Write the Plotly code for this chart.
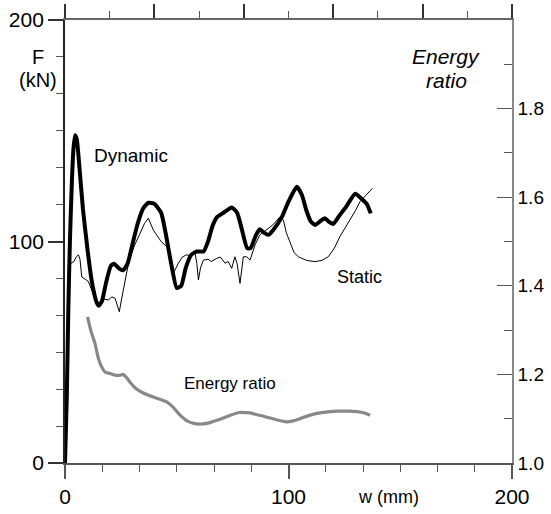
import plotly.graph_objects as go

# Dynamic load-displacement curve (w in mm, F in kN)
dyn_w = [0, 0.8, 1.5, 2.2, 3, 3.8, 4.5, 5.3, 6.5, 8, 10, 12, 14, 15, 16.5, 18.5, 20.5, 22,
         24, 26, 28, 30, 32.5, 35, 37.3, 40, 43, 45, 47.5, 50, 52, 54, 56.5, 59, 62, 64, 66,
         68, 71, 74.6, 77, 79, 81.5, 83, 85.5, 87.2, 89, 91, 93, 97, 100, 103.7, 106, 108,
         110, 112, 114, 116.3, 118, 120, 123, 126, 129.8, 133, 135, 136.8]
dyn_f = [0, 30, 70, 100, 125, 142, 148, 146, 133, 115, 97, 82, 73, 71, 73, 82, 89, 90,
         88, 87, 90, 98, 108, 115, 117.5, 117, 113, 104, 90, 79, 80, 88, 94, 95.5, 95.5, 100, 107,
         111, 113, 115.4, 113, 106, 97, 97, 103, 105.5, 104, 103, 105, 111, 118, 124.7, 121, 114,
         109, 107.5, 109, 110.5, 109, 107.9, 112, 116, 121.6, 119, 117, 112.7]

# Static load-displacement curve
sta_w = [0, 0.5, 1.2, 1.8, 2.5, 4, 5, 6, 6.7, 7.5, 9, 10.4, 12, 14.2, 16, 17.5, 19.4, 21,
         22.4, 23.5, 24.3, 25.5, 26.8, 28, 29.1, 31, 33.6, 35.5, 37.3, 38.5, 39.5, 41, 43,
         45.5, 47, 48.5, 49.5, 50.7, 52.5, 54.4, 56, 58.2, 59, 59.7, 60.6, 61.9, 64, 65.5,
         67.9, 69.5, 71.6, 73, 74.6, 76, 77, 78.3, 79.8, 81.3, 82.8, 85, 87.2, 90, 93, 96.2,
         97.7, 99, 100.7, 102.5, 104.4, 108, 111.9, 115, 117.8, 120.5, 123, 125, 127.5, 130,
         132, 134, 136.5, 137.5]
sta_f = [0, 30, 70, 88, 90, 91, 93, 94, 92, 84, 83, 82, 78, 72, 72, 74, 73.6, 75,
         74.4, 71, 68.3, 75, 82, 88, 92.4, 98, 103.7, 108, 110.5, 108, 105.2, 103, 100,
         97.7, 93, 85.6, 88, 90.2, 93, 94, 93.5, 94.7, 90, 82.6, 88, 91.6, 92, 91,
         92.4, 93, 90.2, 91, 87.9, 93.1, 90, 81.1, 93.1, 93.1, 91.6, 98.4, 103, 105, 107.5, 111.2,
         109.7, 104, 99.2, 95, 93.1, 91.5, 90.9, 91.5, 93.1, 97, 102.2, 105.5, 109.7, 114,
         118, 120, 122.9, 124]

# Energy ratio (right axis)
er_w = [10.1, 11.5, 13.4, 15, 16.4, 18, 20.1, 22.5, 24.6, 26, 27.5, 29.5, 31.7, 35, 39.5,
        43, 45.5, 48, 51.5, 55, 58, 61, 64, 67, 70, 74, 78, 82.8, 86, 90, 95, 99, 102, 105,
        109, 114, 121.5, 127, 130.5, 134, 136.5]
er_r = [1.33, 1.30, 1.27, 1.235, 1.217, 1.205, 1.202, 1.198, 1.198, 1.2, 1.193, 1.18, 1.168,
        1.158, 1.149, 1.143, 1.138, 1.128, 1.108, 1.094, 1.089, 1.088, 1.09, 1.095, 1.1, 1.108,
        1.114, 1.113, 1.109, 1.104, 1.097, 1.093, 1.095, 1.1, 1.107, 1.113, 1.117, 1.117,
        1.116, 1.113, 1.108]

f_ticks = [0, 100, 200]
w_ticks = [0, 100, 200]
er_ticks = [1.0, 1.2, 1.4, 1.6, 1.8]
er_labels = ["1.0", "1.2", "1.4", "1.6", "1.8"]

FONT = "Liberation Sans, Arial, sans-serif"

# plot area in pixels: x 65..512, y 20..463
PX0, PX1, PY0, PY1 = 65, 512, 20, 463


def px(x):
    return (x - PX0) / (PX1 - PX0)


def py(y):
    return (PY1 - y) / (PY1 - PY0)


def label(text, x, y, size, italic=False):
    return dict(text=f"<i>{text}</i>" if italic else text, x=px(x), y=py(y),
                xref="paper", yref="paper", xanchor="center", yanchor="middle",
                showarrow=False, font=dict(size=size))


fig = go.Figure()
fig.add_trace(go.Scatter(x=er_w, y=er_r, mode="lines", yaxis="y2",
                         line=dict(color="#888888", width=3.2, shape="spline", smoothing=0.6)))
fig.add_trace(go.Scatter(x=sta_w, y=sta_f, mode="lines",
                         line=dict(color="#000000", width=1)))
fig.add_trace(go.Scatter(x=dyn_w, y=dyn_f, mode="lines",
                         line=dict(color="#000000", width=4, shape="spline", smoothing=0.5)))
# invisible trace so the top axis is drawn
fig.add_trace(go.Scatter(x=[0, 200], y=[0, 0], xaxis="x2", mode="lines",
                         line=dict(width=0), hoverinfo="skip", opacity=0))

fig.update_layout(
    width=551, height=514,
    margin=dict(l=PX0, r=551 - PX1, t=PY0, b=514 - PY1),
    paper_bgcolor="white", plot_bgcolor="white",
    showlegend=False,
    font=dict(family=FONT, color="#000000"),
    xaxis=dict(range=[0, 200], tickvals=w_ticks, ticks="outside", ticklen=14, tickwidth=1.5,
               tickcolor="#555555", showline=True, linecolor="#555555", linewidth=1.5,
               showgrid=False, zeroline=False, tickfont=dict(size=21), automargin=False,
               minor=dict(dtick=100 / 6, tick0=0, ticks="outside", ticklen=7,
                          tickcolor="#555555", tickwidth=1.2)),
    xaxis2=dict(range=[0, 200], overlaying="x", side="top", anchor="y", dtick=40, tick0=0,
                ticks="outside", ticklen=14, tickwidth=1.8, tickcolor="#333333",
                showline=True, linecolor="#666666", linewidth=1.5, showticklabels=False,
                showgrid=False, zeroline=False, automargin=False,
                minor=dict(dtick=20, tick0=0, ticks="outside", ticklen=7,
                           tickcolor="#555555", tickwidth=1.2)),
    yaxis=dict(range=[0, 200], tickvals=f_ticks, ticks="outside", ticklen=15, tickwidth=1.5,
               tickcolor="#333333", showline=True, linecolor="#222222", linewidth=1.8,
               showgrid=False, zeroline=False, tickfont=dict(size=21), automargin=False,
               minor=dict(dtick=100 / 6, tick0=0, ticks="outside", ticklen=7,
                          tickcolor="#555555", tickwidth=1.2)),
    yaxis2=dict(range=[1.0, 2.0], overlaying="y", side="right", anchor="x",
                tickvals=er_ticks, ticktext=er_labels, ticks="inside", ticklen=15,
                tickwidth=1.2, tickcolor="#555555", showline=True, linecolor="#888888",
                linewidth=1.5, showgrid=False, zeroline=False, tickfont=dict(size=19),
                automargin=False,
                minor=dict(dtick=0.1, tick0=1.0, ticks="inside", ticklen=8,
                           tickcolor="#555555", tickwidth=1.2)),
    annotations=[
        label("F", 38, 57, 20),
        label("(kN)", 38, 80, 20),
        label("Energy", 446, 57, 21, italic=True),
        label("ratio", 446, 80, 21, italic=True),
        label("w (mm)", 388, 497, 18),
        dict(text="Dynamic", x=12.1, y=139, xref="x", yref="y", xanchor="left",
             showarrow=False, font=dict(size=19)),
        dict(text="Static", x=120.8, y=84, xref="x", yref="y", xanchor="left",
             showarrow=False, font=dict(size=18)),
        dict(text="Energy ratio", x=52.3, y=36, xref="x", yref="y", xanchor="left",
             showarrow=False, font=dict(size=17)),
    ],
)

fig.write_html("out.html")
